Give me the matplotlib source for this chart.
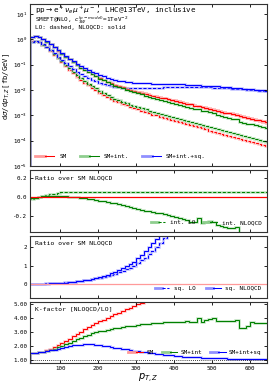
"""Differential pT(Z) distribution for WZ production with SMEFT effects, plus ratio and K-factor panels."""
import matplotlib.pyplot as plt
import numpy as np
from matplotlib.lines import Line2D
from matplotlib.legend_handler import HandlerTuple

plt.rcParams["font.family"] = ["DejaVu Sans Mono", "DejaVu Sans"]
plt.rcParams["mathtext.fontset"] = "dejavusans"

# 10 GeV bins in pT,Z
pt_edges = np.arange(20, 651, 10)

# SM at NLO QCD [fb/GeV]
sm_nlo = np.array([
    1.26, 1.35, 1.20, 1.00, 0.813, 0.631, 0.479, 0.363, 0.275, 0.209, 0.162, 0.126,
    0.0977, 0.0776, 0.0631, 0.0513, 0.0427, 0.0355, 0.0295, 0.0251, 0.0214, 0.0182,
    0.0158, 0.0141, 0.0129, 0.0115, 0.0102, 0.00933, 0.00851, 0.00776, 0.00708, 0.00646,
    0.00589, 0.00550, 0.00501, 0.00468, 0.00427, 0.00398, 0.00372, 0.00339, 0.00316,
    0.00288, 0.00269, 0.00245, 0.00229, 0.00209, 0.00195, 0.00178, 0.00166, 0.00151,
    0.00141, 0.00129, 0.00120, 0.00110, 0.00102, 0.000933, 0.000871, 0.000794, 0.000741,
    0.000676, 0.000631, 0.000575, 0.000537,
])
# relative scale uncertainty of the SM NLO prediction
sm_unc = np.array([
    0.02, 0.02, 0.03, 0.03, 0.03, 0.04, 0.04, 0.05,
    0.05, 0.06, 0.06, 0.07, 0.07, 0.08, 0.08, 0.08, 0.09, 0.09,
    0.09, 0.10, 0.10, 0.10, 0.11, 0.11, 0.11, 0.12, 0.12, 0.12,
    0.12, 0.13, 0.13, 0.13, 0.13, 0.14, 0.14, 0.14, 0.14, 0.15,
    0.15, 0.15, 0.15, 0.15, 0.16, 0.16, 0.16, 0.16, 0.16, 0.17,
    0.17, 0.17, 0.17, 0.17, 0.17, 0.18, 0.18, 0.18, 0.18, 0.18,
    0.18, 0.18, 0.19, 0.19, 0.19,
])
# SM K-factor NLOQCD/LO
k_sm = np.array([
    1.48, 1.50, 1.54, 1.60, 1.68, 1.78, 1.90, 2.04, 2.19, 2.35, 2.52, 2.69,
    2.86, 3.02, 3.18, 3.34, 3.49, 3.63, 3.76, 3.89, 4.01, 4.13, 4.25, 4.37,
    4.49, 4.61, 4.73, 4.85, 4.97, 5.09, 5.21, 5.33, 5.45, 5.56, 5.67, 5.78,
    5.89, 6.00, 6.11, 6.22, 6.33, 6.44, 6.55, 6.66, 6.77, 6.88, 6.99, 7.10,
    7.21, 7.32, 7.43, 7.54, 7.65, 7.76, 7.87, 7.98, 8.09, 8.20, 8.31, 8.42,
    8.53, 8.64, 8.75,
])
# interference over SM NLOQCD
int_lo = np.array([
    -0.028, -0.018, -0.008, 0.003, 0.014, 0.024, 0.033, 0.040, 0.045, 0.048, 0.050, 0.050,
    0.051, 0.050, 0.050, 0.051, 0.050, 0.049, 0.050, 0.050, 0.049, 0.050, 0.050, 0.049,
    0.050, 0.049, 0.049, 0.050, 0.049, 0.048, 0.049, 0.049, 0.048, 0.049, 0.049, 0.048,
    0.049, 0.048, 0.049, 0.048, 0.047, 0.046, 0.048, 0.048, 0.049, 0.048, 0.048, 0.049,
    0.048, 0.048, 0.049, 0.048, 0.049, 0.048, 0.048, 0.049, 0.048, 0.049, 0.048, 0.048,
    0.049, 0.048, 0.048,
])
int_nlo = np.array([
    -0.018, -0.010, -0.003, 0.003, 0.008, 0.010, 0.010, 0.009, 0.007, 0.004, 0.000, -0.004,
    -0.008, -0.012, -0.016, -0.020, -0.025, -0.032, -0.040, -0.048, -0.057, -0.064, -0.071,
    -0.078, -0.086, -0.095, -0.105, -0.115, -0.128, -0.135, -0.145, -0.155, -0.162, -0.168,
    -0.175, -0.183, -0.190, -0.200, -0.215, -0.225, -0.235, -0.245, -0.260, -0.270, -0.220,
    -0.280, -0.270, -0.250, -0.260, -0.300, -0.310, -0.315, -0.325, -0.330, -0.320, -0.430,
    -0.440, -0.420, -0.380, -0.390, -0.400, -0.400, -0.410,
])
# squared dim-6 term over SM NLOQCD
sq_lo = np.array([
    0.000, 0.002, 0.005, 0.010, 0.017, 0.026, 0.037, 0.050, 0.065, 0.082, 0.100, 0.120,
    0.140, 0.165, 0.190, 0.220, 0.250, 0.290, 0.330, 0.380, 0.430, 0.490, 0.550, 0.620,
    0.700, 0.790, 0.890, 1.00, 1.13, 1.28, 1.44, 1.62, 1.82, 2.03, 2.26, 2.50,
    2.76, 3.04, 3.34, 3.66, 4.00, 4.37, 4.74, 5.13, 5.54, 5.97, 6.42, 6.90,
    7.40, 7.92, 8.46, 9.02, 9.60, 10.2, 10.8, 11.5, 12.1, 12.8, 13.5, 14.2,
    15.0, 15.8, 16.6,
])
sq_nlo = np.array([
    0.000, 0.000, 0.002, 0.005, 0.010, 0.017, 0.026, 0.037, 0.050, 0.066, 0.085, 0.107,
    0.130, 0.160, 0.190, 0.230, 0.270, 0.320, 0.370, 0.430, 0.500, 0.570, 0.650, 0.740,
    0.840, 0.950, 1.07, 1.22, 1.40, 1.58, 1.78, 2.00, 2.22, 2.45, 2.70, 2.96,
    3.23, 3.52, 3.82, 4.14, 4.48, 4.84, 5.22, 5.62, 6.04, 6.48, 6.94, 7.42,
    7.92, 8.44, 8.98, 9.54, 10.1, 10.7, 11.3, 12.0, 12.6, 13.3, 14.0, 14.7,
    15.5, 16.3, 17.1,
])

RED, GREEN, BLUE = "#ff0000", "#008000", "#0000ff"
LRED, LGREEN, LBLUE = "#ff9a9a", "#8fce8f", "#9090ff"
DASH = (0, (3.0, 1.6))


def _step(ax, vals, color, light, ls="-", lw=0.75, shadow=1.8):
    ax.stairs(vals, pt_edges, color=light, lw=shadow, alpha=0.55)
    ax.stairs(vals, pt_edges, color=color, lw=lw, linestyle=ls)


def _pair(color, light, ls="-"):
    return (Line2D([], [], color=light, lw=2.0), Line2D([], [], color=color, lw=0.75, linestyle=ls))


def _style(ax):
    ax.tick_params(direction="in", top=True, right=True, length=2.2, width=0.6,
                   labelsize=4.2, pad=2)
    ax.tick_params(which="minor", length=0)
    for spine in ax.spines.values():
        spine.set_linewidth(0.8)
        spine.set_color("#333333")
    ax.set_xlim(20, 645)
    ax.set_xticks([100, 200, 300, 400, 500, 600])


def main() -> None:
    # derived predictions
    sm_lo = sm_nlo / k_sm
    smint_nlo = sm_nlo * (1 + int_nlo)
    smint_lo = sm_nlo * (1 / k_sm + int_lo)
    full_nlo = sm_nlo * (1 + int_nlo + sq_nlo)
    full_lo = sm_nlo * (1 / k_sm + int_lo + sq_lo)

    fig = plt.figure(figsize=(2.72, 3.88), dpi=100)
    left, width = 30 / 272, 237 / 272
    ax0 = fig.add_axes([left, 1 - 166 / 388, width, 162 / 388])
    ax1 = fig.add_axes([left, 1 - 232 / 388, width, 62 / 388])
    ax2 = fig.add_axes([left, 1 - 298 / 388, width, 62 / 388])
    ax3 = fig.add_axes([left, 1 - 363 / 388, width, 61 / 388])

    # main panel
    ax0.set_yscale("log")
    ax0.stairs(sm_nlo * (1 + sm_unc), pt_edges, baseline=sm_nlo * (1 - sm_unc),
               fill=True, color=LRED, alpha=0.55, lw=0)
    _step(ax0, sm_lo, RED, LRED, ls=DASH)
    _step(ax0, smint_lo, GREEN, LGREEN, ls=DASH)
    _step(ax0, full_lo, BLUE, LBLUE, ls=DASH)
    _step(ax0, sm_nlo, RED, LRED)
    _step(ax0, smint_nlo, GREEN, LGREEN)
    _step(ax0, full_nlo, BLUE, LBLUE)
    ax0.set_ylim(1e-5, 25)
    _style(ax0)
    ax0.tick_params(labelbottom=False)
    ax0.text(0.02, 0.962, r"pp$\rightarrow$e$^+\nu_e\mu^+\mu^-$, LHC@13TeV, inclusive",
             transform=ax0.transAxes, fontsize=5.4, va="center")
    ax0.text(0.02, 0.898, r"SMEFT@NLO, $c_{3W}^{(p-model)}$=1TeV$^{-2}$",
             transform=ax0.transAxes, fontsize=4.3, va="center")
    ax0.text(0.02, 0.853, "LO: dashed, NLOQCD: solid",
             transform=ax0.transAxes, fontsize=4.3, va="center")
    ax0.legend([_pair(RED, LRED), _pair(GREEN, LGREEN), _pair(BLUE, LBLUE)],
               ["SM", "SM+int.", "SM+int.+sq."],
               handler_map={tuple: HandlerTuple(ndivide=None, pad=0)},
               loc="lower left", bbox_to_anchor=(0.0, 0.01), ncol=3, frameon=False,
               fontsize=4.3, handlelength=3.2, columnspacing=2.2, handletextpad=0.8)
    fig.text(7 / 272, 1 - 86 / 388, r"d$\sigma$/d$p_{T,Z}$[fb/GeV]", rotation=90,
             fontsize=5.2, ha="center", va="center")

    # interference ratio
    _step(ax1, int_lo, GREEN, LGREEN, ls=DASH)
    _step(ax1, int_nlo, GREEN, LGREEN)
    ax1.axhline(0, color=RED, lw=0.9)
    ax1.set_ylim(-0.37, 0.28)
    ax1.set_yticks([-0.2, 0.0, 0.2])
    ax1.yaxis.set_major_formatter(plt.FormatStrFormatter("%.1f"))
    _style(ax1)
    ax1.tick_params(labelbottom=False)
    ax1.text(0.02, 0.88, "Ratio over SM NLOQCD", transform=ax1.transAxes,
             fontsize=4.6, va="center")
    ax1.legend([_pair(GREEN, LGREEN, DASH), _pair(GREEN, LGREEN)],
               ["int. LO", "int. NLOQCD"],
               handler_map={tuple: HandlerTuple(ndivide=None, pad=0)},
               loc="lower right", bbox_to_anchor=(1.0, 0.02), ncol=2, frameon=False,
               fontsize=4.3, handlelength=2.4, columnspacing=1.2, handletextpad=0.8)

    # squared ratio
    _step(ax2, sq_lo, BLUE, LBLUE, ls=DASH)
    _step(ax2, sq_nlo, BLUE, LBLUE)
    ax2.axhline(0, color=LRED, lw=0.9)
    ax2.set_ylim(-0.78, 2.62)
    ax2.set_yticks([0, 1, 2])
    _style(ax2)
    ax2.tick_params(labelbottom=False)
    ax2.text(0.02, 0.89, "Ratio over SM NLOQCD", transform=ax2.transAxes,
             fontsize=4.6, va="center")
    ax2.legend([_pair(BLUE, LBLUE, DASH), _pair(BLUE, LBLUE)],
               ["sq. LO", "sq. NLOQCD"],
               handler_map={tuple: HandlerTuple(ndivide=None, pad=0)},
               loc="lower right", bbox_to_anchor=(1.0, 0.02), ncol=2, frameon=False,
               fontsize=4.3, handlelength=2.4, columnspacing=1.8, handletextpad=0.8)

    # K-factors
    ax3.axhline(1.0, color="black", lw=0.6, linestyle=(0, (1, 1.5)))
    _step(ax3, k_sm, RED, LRED)
    _step(ax3, smint_nlo / smint_lo, GREEN, LGREEN)
    _step(ax3, full_nlo / full_lo, BLUE, LBLUE)
    ax3.set_ylim(0.786, 5.14)
    ax3.set_yticks([1, 2, 3, 4, 5])
    ax3.yaxis.set_major_formatter(plt.FormatStrFormatter("%.2f"))
    _style(ax3)
    ax3.text(0.02, 0.885, "K-factor [NLOQCD/LO]", transform=ax3.transAxes,
             fontsize=4.6, va="center")
    ax3.legend([_pair(RED, LRED), _pair(GREEN, LGREEN), _pair(BLUE, LBLUE)],
               ["SM", "SM+int", "SM+int+sq"],
               handler_map={tuple: HandlerTuple(ndivide=None, pad=0)},
               loc="lower right", bbox_to_anchor=(1.0, 0.04), ncol=3, frameon=False,
               fontsize=4.3, handlelength=2.6, columnspacing=1.4, handletextpad=0.5)
    ax3.set_xlabel(r"$p_{T,Z}$", fontsize=7, labelpad=1)

    fig.savefig("out.png", dpi=100)
    plt.close(fig)


if __name__ == "__main__":
    main()
